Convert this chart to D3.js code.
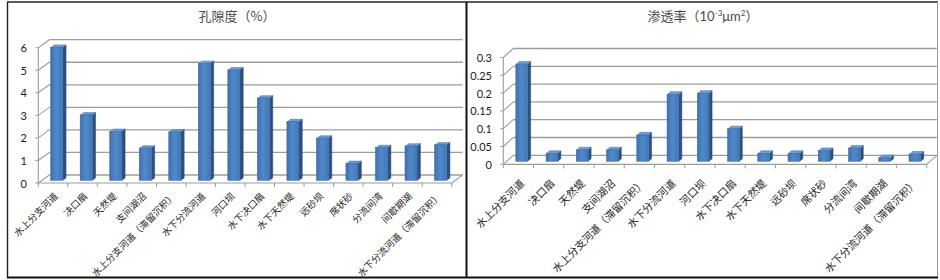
<!DOCTYPE html>
<html><head><meta charset="utf-8">
<script src="https://cdn.jsdelivr.net/npm/d3@7"></script>
<style>
html,body{margin:0;padding:0;background:#fff;}
svg{display:block;}
</style></head>
<body>
<svg id="chart" width="940" height="280"></svg>
<script>
const categories = ["水上分支河道","决口扇","天然堤","支间湖沼","水上分支河道（滞留沉积）","水下分流河道","河口坝","水下决口扇","水下天然堤","远砂坝","席状砂","分流间湾","间歇期湖","水下分流河道（滞留沉积）"];
const porosity = [5.9, 2.9, 2.17, 1.43, 2.15, 5.18, 4.9, 3.65, 2.6, 1.87, 0.75, 1.45, 1.52, 1.57];
const permeability = [0.273, 0.022, 0.032, 0.032, 0.074, 0.188, 0.191, 0.091, 0.022, 0.022, 0.03, 0.037, 0.01, 0.02];
const porosityTicks = [0, 1, 2, 3, 4, 5, 6];
const permeabilityTicks = [0, 0.05, 0.1, 0.15, 0.2, 0.25, 0.3];

const svg = d3.select("#chart");
const CJK = "'Noto Sans CJK SC', 'Noto Sans', sans-serif";
const NUM = "Lato, 'Open Sans', sans-serif";

const defs = svg.append("defs");
const grad = defs.append("linearGradient").attr("id","front").attr("x1","0").attr("x2","1").attr("y1","0").attr("y2","0");
grad.append("stop").attr("offset","0%").attr("stop-color","#3f70ad");
grad.append("stop").attr("offset","45%").attr("stop-color","#5089c9");
grad.append("stop").attr("offset","100%").attr("stop-color","#4478b8");

function drawPanel(cfg, values, ticks) {
  const g = svg.append("g");
  const x = d3.scaleBand().domain(categories).range([cfg.x0, cfg.x1]);
  const y = d3.scaleLinear().domain([0, ticks[ticks.length-1]]).range([cfg.y0, cfg.yTop]);
  const P = (px, py, f) => [px + f*cfg.dx, py + f*cfg.dy];
  const grid = "#9c9c9c";

  ticks.forEach(t => {
    const a = P(cfg.x0, y(t), 1);
    g.append("line").attr("x1", a[0]).attr("y1", a[1]).attr("x2", cfg.x1 + cfg.dx).attr("y2", a[1])
      .attr("stroke", grid).attr("stroke-width", 1.3);
    g.append("line").attr("x1", cfg.x0).attr("y1", y(t)).attr("x2", a[0]).attr("y2", a[1])
      .attr("stroke", grid).attr("stroke-width", 1.1);
    g.append("line").attr("x1", cfg.x0 - 3).attr("y1", y(t)).attr("x2", cfg.x0).attr("y2", y(t))
      .attr("stroke", grid).attr("stroke-width", 1);
    g.append("text").attr("x", cfg.tickX).attr("y", y(t)).attr("text-anchor","end")
      .attr("dominant-baseline","central").attr("font-family", NUM).attr("font-size", cfg.tickSize)
      .attr("fill","#222").text(t);
  });
  g.append("line").attr("x1", cfg.x0).attr("y1", cfg.y0).attr("x2", cfg.x0).attr("y2", y(ticks[ticks.length-1]))
    .attr("stroke", grid).attr("stroke-width", 1.1);
  g.append("line").attr("x1", cfg.x0).attr("y1", cfg.y0).attr("x2", cfg.x1).attr("y2", cfg.y0)
    .attr("stroke", grid).attr("stroke-width", 1.2);
  g.append("line").attr("x1", cfg.x1).attr("y1", cfg.y0).attr("x2", cfg.x1 + cfg.dx).attr("y2", cfg.y0 + cfg.dy)
    .attr("stroke", grid).attr("stroke-width", 1.1);
  categories.concat([null]).forEach((c) => {
    const xx = c === null ? cfg.x1 : x(c);
    g.append("line").attr("x1", xx).attr("y1", cfg.y0).attr("x2", xx).attr("y2", cfg.y0 + 4)
      .attr("stroke", grid).attr("stroke-width", 1);
  });

  const f0 = 0.33, f1 = 0.63;
  const bw = x.bandwidth() * cfg.barFrac;
  categories.forEach((c, i) => {
    const v = values[i];
    const cx = x(c) + x.bandwidth()/2;
    const L = cx - bw/2, R = cx + bw/2;
    const bl = P(L, y(0), f0), br = P(R, y(0), f0), tl = P(L, y(v), f0), tr = P(R, y(v), f0);
    const brB = P(R, y(0), f1), trB = P(R, y(v), f1), tlB = P(L, y(v), f1);
    g.append("path").attr("d", d3.line()([br, brB, trB, tr])).attr("fill", "#2b5184").attr("stroke","#24466f").attr("stroke-width",0.5);
    g.append("path").attr("d", d3.line()([tl, tr, trB, tlB])).attr("fill", "#6f9dd6").attr("stroke","#3d6aa3").attr("stroke-width",0.5);
    g.append("rect").attr("x", tl[0]).attr("y", tl[1]).attr("width", bw).attr("height", bl[1] - tl[1])
      .attr("fill", "url(#front)").attr("stroke","#3a659c").attr("stroke-width",0.5);
  });

  categories.forEach((c) => {
    const ax = x(c) + x.bandwidth()/2 + cfg.labDx;
    g.append("text").attr("transform", `translate(${ax},${cfg.labY}) rotate(-45)`)
      .attr("text-anchor","end").attr("dominant-baseline","central")
      .attr("font-family", CJK).attr("font-size", cfg.labSize).attr("fill","#222").text(c);
  });

  const tt = g.append("text").attr("x", cfg.titleX).attr("y", cfg.titleY).attr("text-anchor","middle")
    .attr("font-family", CJK).attr("font-size", 13).attr("fill","#4a4a4a");
  cfg.title(tt);
}

drawPanel({x0:38.3, x1:451.7, y0:183, yTop:47.7, dx:11, dy:-8, tickX:27, tickSize:11,
  barFrac:0.41, labDx:2.5, labY:194, labSize:9.5, titleX:237, titleY:21,
  title: t => t.text("孔隙度（%）")}, porosity, porosityTicks);

drawPanel({x0:503.3, x1:926.7, y0:164.3, yTop:57.5, dx:10, dy:-9, tickX:492, tickSize:11,
  barFrac:0.39, labDx:3.5, labY:181, labSize:10.5, titleX:703, titleY:21,
  title: t => {
    t.append("tspan").text("渗透率（");
    t.append("tspan").attr("font-family", NUM).text("10");
    t.append("tspan").attr("font-family", NUM).attr("font-size", 8).attr("dy", -5).text("-3");
    t.append("tspan").attr("font-family", NUM).attr("dy", 5).text("μm");
    t.append("tspan").attr("font-family", NUM).attr("font-size", 8).attr("dy", -5).text("2");
    t.append("tspan").attr("dy", 5).text("）");
  }}, permeability, permeabilityTicks);

const frame = svg.append("g");
frame.append("line").attr("x1",7).attr("y1",2).attr("x2",938).attr("y2",2).attr("stroke","#222").attr("stroke-width",1.6);
frame.append("line").attr("x1",7.5).attr("y1",2).attr("x2",7.5).attr("y2",278).attr("stroke","#222").attr("stroke-width",1.4);
frame.append("line").attr("x1",466.5).attr("y1",2).attr("x2",466.5).attr("y2",278).attr("stroke","#111").attr("stroke-width",2);
frame.append("line").attr("x1",937.5).attr("y1",2).attr("x2",937.5).attr("y2",278).attr("stroke","#999").attr("stroke-width",1);
frame.append("line").attr("x1",7).attr("y1",277.5).attr("x2",938).attr("y2",277.5).attr("stroke","#111").attr("stroke-width",2);
</script>
</body></html>
